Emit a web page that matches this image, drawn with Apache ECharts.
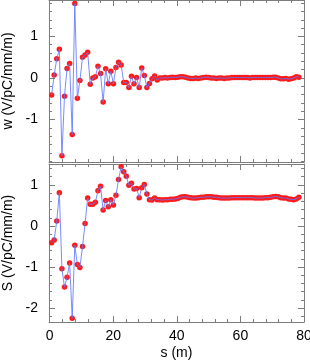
<!DOCTYPE html>
<html><head><meta charset="utf-8">
<script src="https://cdn.jsdelivr.net/npm/echarts/dist/echarts.min.js"></script>
<style>html,body{margin:0;padding:0;background:#fff}#c{width:310px;height:361px}</style>
</head><body><div id="c"></div>
<script>
const s = [0.62, 1.43, 2.24, 3.05, 3.86, 4.67, 5.48, 6.29, 7.10, 7.91,
  8.72, 9.53, 10.34, 11.15, 11.96, 12.77, 13.58, 14.39, 15.20, 16.01,
  16.82, 17.63, 18.44, 19.25, 20.06, 20.87, 21.68, 22.49, 23.30, 24.11,
  24.92, 25.73, 26.54, 27.35, 28.16, 28.97, 29.78, 30.59, 31.40, 32.21,
  33.02, 33.83, 34.64, 35.45, 36.26, 37.07, 37.88, 38.69, 39.50, 40.31,
  41.12, 41.93, 42.74, 43.55, 44.36, 45.17, 45.98, 46.79, 47.60, 48.41,
  49.22, 50.03, 50.84, 51.65, 52.46, 53.27, 54.08, 54.89, 55.70, 56.51,
  57.32, 58.13, 58.94, 59.75, 60.56, 61.37, 62.18, 62.99, 63.80, 64.61,
  65.42, 66.23, 67.04, 67.85, 68.66, 69.47, 70.28, 71.09, 71.90, 72.71,
  73.52, 74.33, 75.14, 75.95, 76.76, 77.57, 78.38];
const w = [-0.41, 0.07, 0.46, 0.69, -1.87, -0.44, 0.23, 0.35, -1.36, 1.79,
  -0.49, -0.06, 0.50, 0.55, 0.62, -0.15, 0.00, 0.03, 0.28, 0.11,
  -0.58, 0.22, -0.14, 0.16, -0.14, 0.25, 0.38, 0.31, -0.11, -0.11,
  -0.23, 0.04, -0.14, 0.01, -0.23, 0.24, 0.06, -0.23, -0.13, -0.02,
  0.05, -0.05, 0.00, 0.00, 0.01, 0.00, 0.01, 0.02, 0.01, 0.02,
  0.03, 0.03, 0.02, 0.00, -0.01, -0.01, 0.00, -0.01, 0.00, 0.01,
  0.02, 0.01, 0.00, 0.00, -0.01, 0.00, 0.00, -0.01, 0.00, 0.00,
  0.01, 0.01, 0.01, 0.01, 0.01, 0.01, 0.01, 0.00, 0.01, 0.01,
  0.01, 0.01, 0.01, 0.01, 0.01, 0.01, 0.02, 0.02, 0.00, -0.02,
  -0.02, -0.01, -0.03, -0.02, 0.00, 0.03, 0.02];
const S = [-0.41, -0.34, 0.12, 0.81, -1.04, -1.49, -1.25, -0.90, -2.25, -0.47,
  -0.94, -1.01, -0.50, 0.06, 0.68, 0.53, 0.53, 0.58, 0.86, 0.97,
  0.39, 0.62, 0.47, 0.64, 0.51, 0.75, 1.13, 1.44, 1.32, 1.21,
  0.99, 1.04, 0.90, 0.91, 0.69, 0.93, 1.01, 0.78, 0.64, 0.63,
  0.68, 0.64, 0.64, 0.63, 0.64, 0.64, 0.65, 0.65, 0.66, 0.67,
  0.70, 0.71, 0.71, 0.70, 0.69, 0.68, 0.68, 0.69, 0.70, 0.70,
  0.71, 0.71, 0.71, 0.70, 0.70, 0.69, 0.68, 0.68, 0.68, 0.68,
  0.69, 0.69, 0.69, 0.69, 0.69, 0.69, 0.69, 0.69, 0.69, 0.68,
  0.68, 0.68, 0.68, 0.69, 0.69, 0.70, 0.71, 0.72, 0.71, 0.69,
  0.68, 0.68, 0.66, 0.65, 0.64, 0.66, 0.70];
const xTicks = [0, 20, 40, 60, 80];
const wTicks = [-1, 0, 1];
const STicks = [-2, -1, 0, 1];
const xName = 's (m)';
const wName = 'w (V/pC/mm/m)';
const SName = 'S (V/pC/mm/m)';

const FONT = '"Liberation Sans", Arial, Helvetica, sans-serif';
const AX = '#7d7d7d';
const XR = [-0.2, 80.0];
const WR = [-2.02, 1.875];
const SR = [-2.34, 1.51];

function minors(majors, step, lo, hi) {
  const out = [];
  const a = Math.floor(lo / step), b = Math.ceil(hi / step);
  for (let k = a; k <= b; k++) {
    const v = +(k * step).toFixed(6);
    if (v > lo && v < hi && !majors.some(m => Math.abs(m - v) < 1e-6)) out.push(v);
  }
  return out;
}
function ax(o) {
  const a = {
    type: 'value', gridIndex: o.grid, position: o.pos, min: o.r[0], max: o.r[1],
    axisLine: { show: !!o.line, onZero: false, lineStyle: { color: AX, width: 1 } },
    axisTick: { show: true, inside: true, length: o.len, customValues: o.ticks, lineStyle: { color: AX, width: 1 } },
    axisLabel: o.labels ? { show: true, customValues: o.ticks, color: '#000', fontSize: 14, fontFamily: FONT, margin: o.margin, hideOverlap: false, showMinLabel: true, showMaxLabel: true } : { show: false },
    splitLine: { show: false }, minorTick: { show: false }
  };
  if (o.name) {
    a.name = o.name; a.nameLocation = 'middle'; a.nameGap = o.nameGap;
    a.nameTextStyle = { color: '#000', fontSize: 14, fontFamily: FONT };
  }
  return a;
}
const xMin = minors(xTicks, 4, XR[0], XR[1]);
const wMin = minors(wTicks, 0.2, WR[0], WR[1]);
const SMin = minors(STicks, 0.2, SR[0], SR[1]);

const xAxis = [];
const yAxis = [];
[0, 1].forEach(g => {
  ['bottom', 'top'].forEach(p => {
    const main = g === 1 && p === 'bottom';
    xAxis.push(ax({ grid: g, pos: p, r: XR, line: true, len: 6, ticks: xTicks, labels: main, margin: 7, name: main ? xName : null, nameGap: 24 }));
  });
});
[0, 1].forEach(g => {
  ['bottom', 'top'].forEach(p => {
    xAxis.push(ax({ grid: g, pos: p, r: XR, line: false, len: 3, ticks: xMin }));
  });
});
const yDefs = [[WR, wTicks, wMin, wName], [SR, STicks, SMin, SName]];
yDefs.forEach((d, g) => {
  ['left', 'right'].forEach(p => {
    const main = p === 'left';
    yAxis.push(ax({ grid: g, pos: p, r: d[0], line: true, len: 6, ticks: d[1], labels: main, margin: 11, name: main ? d[3] : null, nameGap: 31 }));
  });
});
yDefs.forEach((d, g) => {
  ['left', 'right'].forEach(p => {
    yAxis.push(ax({ grid: g, pos: p, r: d[0], line: false, len: 3, ticks: d[2] }));
  });
});

function pts(g, ys) {
  return {
    type: 'scatter', xAxisIndex: g * 2, yAxisIndex: g * 2, z: 2,
    data: s.map((x, i) => [x, ys[i]]),
    symbol: 'circle', symbolSize: 5.5,
    itemStyle: { color: '#ff1a1a', opacity: 1 },
    emphasis: { disabled: true }, silent: true
  };
}
function line(g, ys) {
  return {
    type: 'line', xAxisIndex: g * 2, yAxisIndex: g * 2, z: 3,
    data: s.map((x, i) => [x, ys[i]]),
    showSymbol: false, symbol: 'none',
    lineStyle: { color: '#5f78ff', width: 1, opacity: 0.85 },
    emphasis: { disabled: true }, silent: true
  };
}
const chart = echarts.init(document.getElementById('c'), null, { renderer: 'canvas' });
chart.setOption({
  animation: false,
  backgroundColor: '#fff',
  grid: [
    { left: 49, right: 6, top: 0, height: 162, outerBoundsMode: 'none', containLabel: false },
    { left: 49, right: 6, top: 164, height: 158, outerBoundsMode: 'none', containLabel: false }
  ],
  xAxis: xAxis,
  yAxis: yAxis,
  series: [pts(0, w), line(0, w), pts(1, S), line(1, S)]
});
</script></body></html>
